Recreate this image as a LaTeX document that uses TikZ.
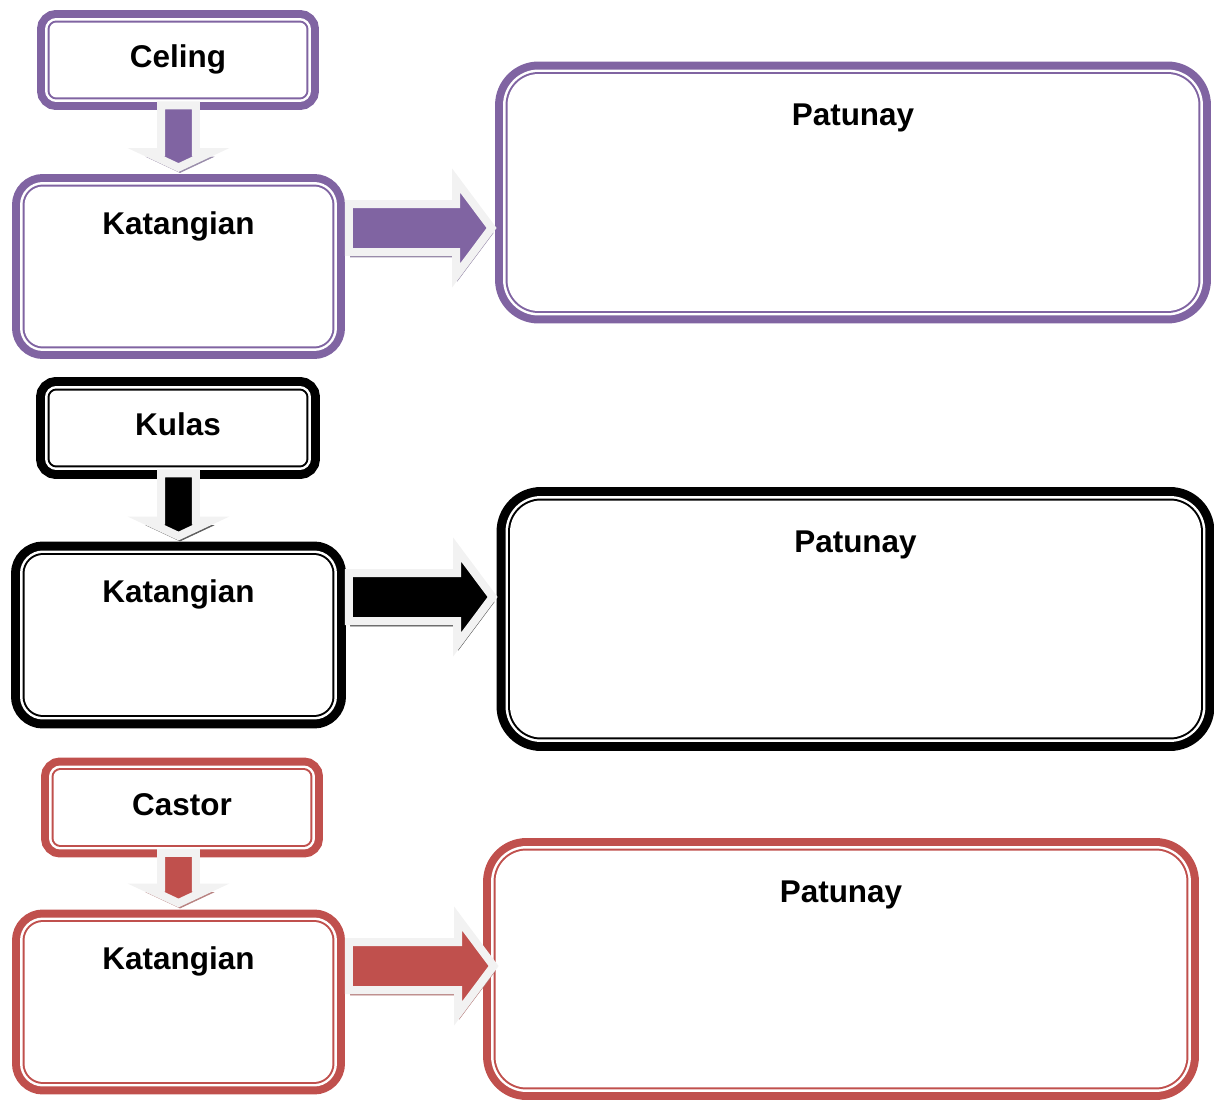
\documentclass[tikz,border=0pt]{standalone}
\usepackage{fontspec}
\setmainfont{Liberation Sans}
\usetikzlibrary{calc}
\definecolor{plum}{HTML}{8064A2}
\definecolor{brick}{HTML}{C0504D}
\definecolor{ink}{HTML}{000000}
\definecolor{glow}{HTML}{F2F2F2}
\newcommand{\headfont}{\bfseries\fontsize{17.9}{21}\selectfont}
\tikzset{
  % double rim: thick outer line, white gap, thin inner line
  frame/.style 2 args={fill=white,inner sep=0pt,outer sep=0pt,
    preaction={draw=#1,line width=#2},
    preaction={draw=white,line width=0.18cm},
    preaction={draw=#1,line width=0.08cm}},
  namebox/.style={minimum width=5.14cm,minimum height=1.5cm,rounded corners=0.14cm,
    font=\headfont,text height=13.4pt,text depth=4.5pt},
  traitbox/.style={minimum width=6.16cm,minimum height=3.2cm,rounded corners=0.37cm},
  proofbox/.style={minimum width=13.82cm,minimum height=4.74cm,rounded corners=0.62cm},
  head/.style={font=\headfont,anchor=center,text height=13.4pt,text depth=4.5pt,inner sep=0pt},
  % block arrow: shaft half width, head half width, head length
  pipe/.style n args={4}{draw=glow,fill=#1,line width=0.16cm,line join=miter,
    preaction={draw=#1!60!gray!80!white,fill=#1!60!gray!80!white,
      transform canvas={shift={(0.03cm,-0.1cm)}}},
    to path={
      ($(\tikztostart)!#2!90:(\tikztotarget)$)
      -- ($(\tikztotarget)!#4!(\tikztostart)!#2!90:(\tikztotarget)$)
      -- ($(\tikztotarget)!#4!(\tikztostart)!#3!90:(\tikztotarget)$)
      -- (\tikztotarget)
      -- ($(\tikztotarget)!#4!(\tikztostart)!#3!-90:(\tikztotarget)$)
      -- ($(\tikztotarget)!#4!(\tikztostart)!#2!-90:(\tikztotarget)$)
      -- ($(\tikztostart)!#2!-90:(\tikztotarget)$)
      -- cycle}},
  dropflow/.style={pipe={#1}{0.35cm}{0.66cm}{0.31cm}},
  sideflow/.style={pipe={#1}{0.48cm}{0.95cm}{0.71cm}},
}

\begin{document}
\begin{tikzpicture}[x=0.02cm,y=-0.02cm]
  \useasboundingbox (0,0) rectangle (1214,1101);

  % --- Celing ---
  \node[namebox,frame={plum}{0.5cm}](celing) at (178,60){Celing};
  \node[traitbox,frame={plum}{0.5cm},label={[head,yshift=-0.8cm]north:Katangian}](kat1) at (178.5,266.5){};
  \node[proofbox,frame={plum}{0.5cm},label={[head,yshift=-0.88cm]north:Patunay}](pat1) at (853,192.5){};
  \coordinate (r1) at ([yshift=-0.83cm]kat1.north);
  \draw[dropflow=plum]([yshift=-0.16cm]kat1.north |- celing.south) to ([yshift=0.38cm]kat1.north);
  \draw[sideflow=plum]([xshift=0.33cm]kat1.east |- r1) to ([xshift=-0.32cm]pat1.west |- r1);

  % --- Kulas ---
  \node[namebox,frame={ink}{0.54cm}](kulas) at (178,428){Kulas};
  \node[traitbox,frame={ink}{0.54cm},label={[head,yshift=-0.8cm]north:Katangian}](kat2) at (178.5,635){};
  \node[proofbox,frame={ink}{0.54cm},label={[head,yshift=-0.88cm]north:Patunay}](pat2) at (855.5,619){};
  \coordinate (r2) at ([yshift=-0.84cm]kat2.north);
  \draw[dropflow=ink]([yshift=-0.16cm]kat2.north |- kulas.south) to ([yshift=0.38cm]kat2.north);
  \draw[sideflow=ink]([xshift=0.33cm]kat2.east |- r2) to ([xshift=-0.35cm]pat2.west |- r2);

  % --- Castor ---
  \node[namebox,frame={brick}{0.5cm}](castor) at (182,807.5){Castor};
  \node[traitbox,frame={brick}{0.5cm},label={[head,yshift=-0.8cm]north:Katangian}](kat3) at (178.5,1002){};
  \node[proofbox,frame={brick}{0.5cm},label={[head,yshift=-0.88cm]north:Patunay}](pat3) at (841,969){};
  \coordinate (r3) at ([yshift=-0.88cm]kat3.north);
  \draw[dropflow=brick]([yshift=-0.16cm]kat3.north |- castor.south) to ([yshift=0.38cm]kat3.north);
  \draw[sideflow=brick]([xshift=0.33cm]kat3.east |- r3) to ([xshift=-0.04cm]pat3.west |- r3);
\end{tikzpicture}
\end{document}
